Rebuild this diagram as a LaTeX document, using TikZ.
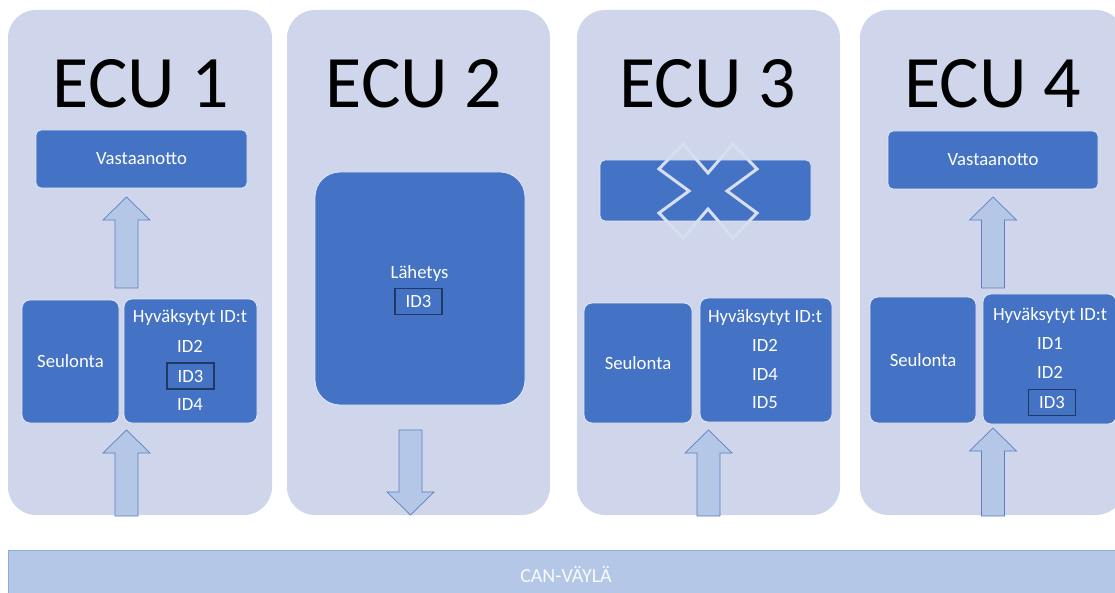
\documentclass[tikz,border=0pt]{standalone}
\usepackage{fontspec}
\setmainfont{Carlito}
\usetikzlibrary{calc}
\definecolor{ecubg}{HTML}{CFD5EA}
\definecolor{boxblue}{HTML}{4472C4}
\definecolor{arrowfill}{HTML}{B4C7E7}
\definecolor{arrowline}{HTML}{5B7FC0}
\definecolor{idframe}{HTML}{203864}
\definecolor{crossline}{HTML}{D6DFF1}
\definecolor{busline}{HTML}{8FAADC}
\tikzset{
  ecu/.style={fill=ecubg, rounded corners=28pt, inner sep=0pt},
  ecutitle/.style={anchor=base, inner sep=0pt, font=\fontsize{74}{80}\selectfont},
  block/.style={fill=boxblue, draw=white!85!boxblue, line width=0.8pt, rounded corners=#1,
    inner sep=0pt, text=white, font=\fontsize{18.7}{22}\selectfont},
  block/.default=5pt,
  txt/.style={anchor=base, inner sep=0pt, text=white, font=\fontsize{18.7}{22}\selectfont},
  idbox/.style={draw=idframe, line width=1.5pt, minimum width=47pt, minimum height=26pt,
    inner sep=0pt, text=white, font=\fontsize{18.7}{22}\selectfont},
  blockarrow/.style={fill=arrowfill, draw=arrowline, line width=0.7pt},
  cross/.style={draw=crossline, line width=3pt},
  bus/.style={fill=arrowfill, draw=busline, line width=1pt, inner sep=0pt,
    text=white!92!arrowfill, font=\fontsize{20}{24}\selectfont},
  pics/uparrow/.style={code={
    \draw[blockarrow] (0,0) -- (23.5,23) -- (11.5,23) -- (11.5,#1) -- (-11.5,#1) -- (-11.5,23) -- (-23.5,23) -- cycle;}},
  pics/downarrow/.style={code={
    \draw[blockarrow] (0,0) -- (23.5,-23) -- (11.5,-23) -- (11.5,-#1) -- (-11.5,-#1) -- (-11.5,-23) -- (-23.5,-23) -- cycle;}},
}
\begin{document}
\begin{tikzpicture}[x=1pt,y=-1pt]
  \useasboundingbox (0,0) rectangle (1115,593);
  % ECU panels
  \node[ecu, minimum width=264pt, minimum height=505pt] (ecu1) at (140,262.5) {};
  \node[ecu, minimum width=263pt, minimum height=505pt] (ecu2) at (418.5,262.5) {};
  \node[ecu, minimum width=263pt, minimum height=505pt] (ecu3) at (708.5,262.5) {};
  \node[ecu, minimum width=264pt, minimum height=505pt] (ecu4) at (992,262.5) {};
  \node[ecutitle] (title1) at (141,108) {ECU 1};
  \node[ecutitle] (title2) at (414,108) {ECU 2};
  \node[ecutitle] (title3) at (707.5,108) {ECU 3};
  \node[ecutitle] (title4) at (992.5,108) {ECU 4};
  % ECU 1
  \node[block, minimum width=211pt, minimum height=58pt] (vast1) at (141.5,159) {Vastaanotto};
  \node[block=8pt, minimum width=97pt, minimum height=123pt] (seul1) at (70.5,361.5) {Seulonta};
  \node[block=8pt, minimum width=133pt, minimum height=124pt] (hyv1) at (190.5,361) {};
  \node[txt] (hyvtitle1) at (190,322) {Hyväksytyt ID:t};
  \node[txt] (id1b) at (190,352) {ID2};
  \node[idbox] (id1c) at (190.5,376) {ID3};
  \node[txt] (id1d) at (190,410) {ID4};
  \pic at (126.5,197) {uparrow=91};
  \pic at (126.5,430) {uparrow=86};
  % ECU 2
  \node[block=25pt, minimum width=210pt, minimum height=233pt] (lah2) at (420,288.5) {};
  \node[txt] (lahtitle2) at (419.5,279) {Lähetys};
  \node[idbox] (id2c) at (418.5,301.5) {ID3};
  \pic at (410.5,515) {downarrow=85};
  % ECU 3
  \node[block, minimum width=211pt, minimum height=61pt] (vast3) at (705.5,190.5) {};
  \draw[cross, shift={(708,191)}] (0,-18) -- (25,-47) -- (49,-22) -- (19,0) -- (49,22) -- (25,47)
    -- (0,18) -- (-25,47) -- (-49,22) -- (-19,0) -- (-49,-22) -- (-25,-47) -- cycle;
  \node[block=8pt, minimum width=108pt, minimum height=120pt] (seul3) at (638,363) {Seulonta};
  \node[block=8pt, minimum width=132pt, minimum height=124pt] (hyv3) at (766,360) {};
  \node[txt] (hyvtitle3) at (765,322) {Hyväksytyt ID:t};
  \node[txt] (id3b) at (765,351) {ID2};
  \node[txt] (id3c) at (765,380) {ID4};
  \node[txt] (id3d) at (765,408) {ID5};
  \pic at (708.5,430) {uparrow=86};
  % ECU 4
  \node[block, minimum width=210pt, minimum height=58pt] (vast4) at (993,160) {Vastaanotto};
  \node[block=8pt, minimum width=106pt, minimum height=126pt] (seul4) at (923,360) {Seulonta};
  \node[block=8pt, minimum width=133pt, minimum height=130pt] (hyv4) at (1049.5,359) {};
  \node[txt] (hyvtitle4) at (1050,320) {Hyväksytyt ID:t};
  \node[txt] (id4b) at (1050,349) {ID1};
  \node[txt] (id4c) at (1050,378) {ID2};
  \node[idbox] (id4d) at (1052,402.5) {ID3};
  \pic at (993,197) {uparrow=91};
  \pic at (993,428) {uparrow=88};
  % CAN bus
  \node[bus, minimum width=1115pt, minimum height=50pt] (can) at (566,575) {CAN-VÄYLÄ};
\end{tikzpicture}
\end{document}
